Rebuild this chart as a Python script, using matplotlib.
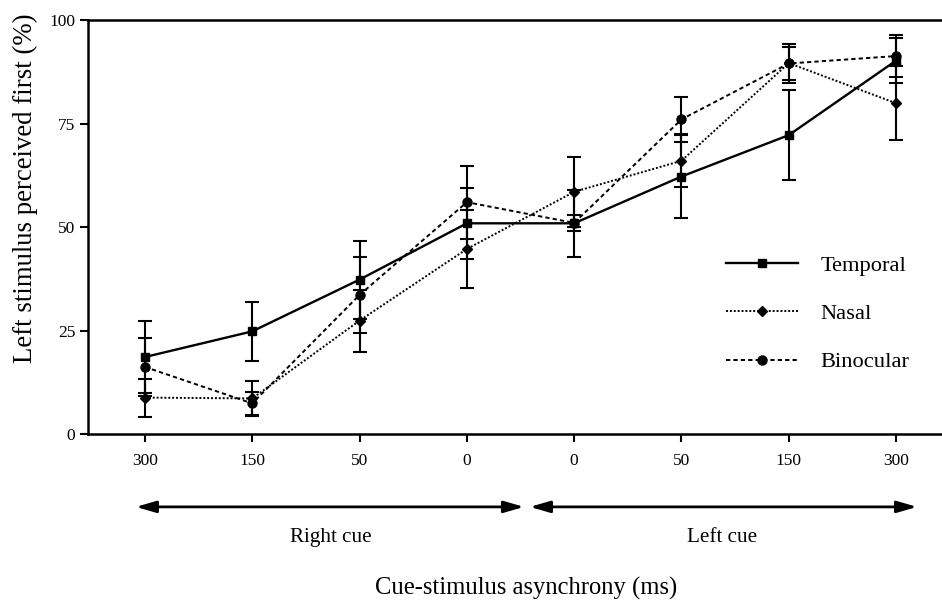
import matplotlib
matplotlib.use("Agg")
import matplotlib.pyplot as plt
import matplotlib.transforms as mtransforms

plt.rcParams['font.family'] = ['Liberation Serif', 'DejaVu Serif']

# x categories (cue-stimulus asynchrony, ms) - right cue then left cue
tick_labels = ["300", "150", "50", "0", "0", "50", "150", "300"]
xpos = list(range(len(tick_labels)))

temporal = [18.6, 24.8, 37.3, 50.9, 50.9, 62.2, 72.2, 90.2]
temporal_err = [8.7, 7.2, 9.4, 8.6, 8.1, 10.0, 10.9, 5.4]

nasal = [8.8, 8.6, 27.4, 44.7, 58.5, 66.0, 89.6, 79.9]
nasal_err = [4.6, 4.3, 7.5, 9.5, 8.4, 6.4, 4.0, 9.0]

binocular = [16.2, 7.4, 33.6, 56.0, 51.0, 76.0, 89.5, 91.3]
binocular_err = [7.1, 2.8, 9.2, 8.8, 2.0, 5.5, 4.6, 5.1]

fig = plt.figure(figsize=(9.42, 6.05), dpi=100)
ax = fig.add_axes([0.0934, 0.2826, 0.9066, 0.6843])

series = [
    ("Temporal", temporal, temporal_err, "-", "s", 5.8),
    ("Nasal", nasal, nasal_err, (0, (1, 1)), "D", 4.8),
    ("Binocular", binocular, binocular_err, (0, (2.2, 1.6)), "o", 6.5),
]
handles = []
for name, vals, errs, ls, mk, ms in series:
    ax.errorbar(xpos, vals, yerr=errs, fmt="none", ecolor="black",
                elinewidth=1.5, capsize=5, capthick=1.5, zorder=2)
    h, = ax.plot(xpos, vals, color="black", linestyle=ls, marker=mk,
                 markersize=ms, linewidth=1.7 if ls == "-" else 1.4, label=name, zorder=3)
    handles.append(h)

ax.set_xlim(-0.531, 7.428)
ax.set_ylim(0, 100)
ax.set_xticks(xpos)
ax.set_xticklabels(tick_labels)
ax.set_yticks([0, 25, 50, 75, 100])
ax.tick_params(direction="out", length=6, width=1.5, labelsize=12.5)
ax.tick_params(axis="x", pad=8)
ax.tick_params(axis="y", pad=3)
for s in ["left", "bottom", "top"]:
    ax.spines[s].set_linewidth(1.8)
ax.spines["right"].set_visible(False)

ax.text(-0.0738, 0.594, "Left stimulus perceived first (%)", transform=ax.transAxes,
        rotation=90, ha="center", va="center", fontsize=19.3)

leg = ax.legend(handles=handles, loc="upper left", bbox_to_anchor=(0.734, 0.459),
                frameon=False, fontsize=16.2, handlelength=3.2, handletextpad=0.98,
                labelspacing=1.22, borderpad=0)

# cue arrows and labels below the axis
trans = mtransforms.blended_transform_factory(ax.transData, ax.transAxes)
arrow_props = dict(arrowstyle="<|-|>,head_length=1.2,head_width=0.35", color="black",
                   lw=2, mutation_scale=10, shrinkA=0, shrinkB=0)
ax.annotate("", xy=(-0.084, -0.176), xytext=(3.532, -0.176), xycoords=trans,
            textcoords=trans, arrowprops=arrow_props, annotation_clip=False)
ax.annotate("", xy=(3.588, -0.176), xytext=(7.195, -0.176), xycoords=trans,
            textcoords=trans, arrowprops=arrow_props, annotation_clip=False)
ax.text(1.733, -0.251, "Right cue", transform=trans, ha="center", va="center", fontsize=15.2)
ax.text(5.377, -0.251, "Left cue", transform=trans, ha="center", va="center", fontsize=15.2)
ax.text(3.551, -0.372, "Cue-stimulus asynchrony (ms)", transform=trans,
        ha="center", va="center", fontsize=17.7)

fig.savefig("out.png", dpi=100)
